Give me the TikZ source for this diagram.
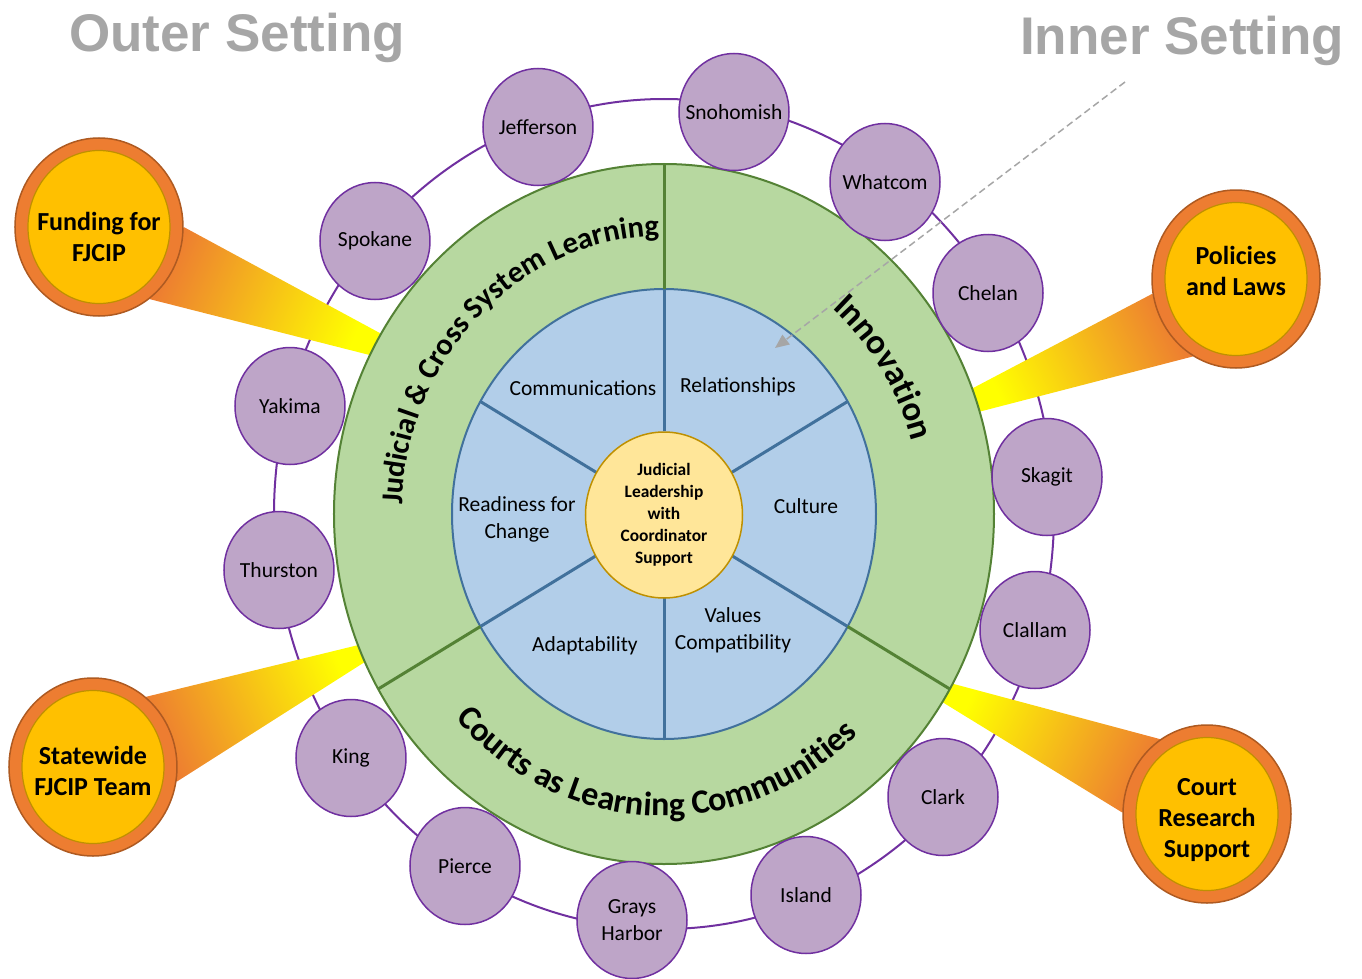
\documentclass[tikz,border=0pt]{standalone}
\usepackage{fontspec}
\setmainfont{Carlito}
\newfontfamily\headfont{Liberation Sans}
\usetikzlibrary{arrows.meta,shapes.geometric,decorations.text,backgrounds}
\definecolor{ringpurple}{RGB}{112,48,160}
\definecolor{countyfill}{RGB}{190,165,200}
\definecolor{outergreen}{RGB}{183,216,160}
\definecolor{greenline}{RGB}{84,130,53}
\definecolor{innerblue}{RGB}{178,206,233}
\definecolor{blueline}{RGB}{65,113,156}
\definecolor{leadfill}{RGB}{255,230,153}
\definecolor{leadline}{RGB}{191,144,0}
\definecolor{pptorange}{RGB}{237,125,49}
\definecolor{orangeline}{RGB}{174,90,33}
\definecolor{pptgold}{RGB}{255,192,0}
\definecolor{headgray}{RGB}{166,166,166}
\newcommand\ringfont{\fontsize{35}{42}\selectfont\bfseries}

\begin{document}
\begin{tikzpicture}[x=1pt,y=1pt,>=Stealth,every node/.style={font=\fontsize{21.5}{27}\selectfont}]
  \tikzset{
    county/.style={ellipse,draw=ringpurple,line width=1.5pt,fill=countyfill,minimum width=110pt,minimum height=117pt,inner sep=0pt},
    support/.style={ellipse,draw=orangeline,line width=1.5pt,fill=pptorange,minimum width=168pt,minimum height=178pt,inner sep=0pt,
      path picture={\filldraw[fill=pptgold,draw=leadline,line width=1.2pt] (path picture bounding box.center) ellipse [x radius=71,y radius=76.5];}},
    supporttext/.style={align=center,font=\fontsize{26}{31}\selectfont\bfseries},
    beam/.style={bottom color=pptorange,top color=yellow},
    spoke/.style={draw=blueline,line width=3pt},
    wedge/.style={draw=greenline,line width=3pt},
    heading/.style={font=\headfont\fontsize{53}{60}\selectfont\bfseries,text=headgray}
  }
  \useasboundingbox (-664,-464) rectangle (698,514);

  % rings
  \filldraw[fill=outergreen,draw=greenline,line width=2pt] (0,0) ellipse [x radius=330,y radius=350];
  \filldraw[fill=innerblue,draw=blueline,line width=2pt] (0,0) ellipse [x radius=212,y radius=225];
  \foreach \a in {90,30,-30,-90,-150,150}
    \draw[spoke] (\a:78 and 83) -- (\a:212 and 225);
  \foreach \a in {90,-30,210}
    \draw[wedge] (\a:212 and 225) -- (\a:330 and 350);
  \node[ellipse,draw=leadline,line width=1.5pt,fill=leadfill,minimum width=157pt,minimum height=166pt,inner sep=0pt,align=center,font=\fontsize{17.4}{22}\selectfont\bfseries] (lead) at (0,-1) {Judicial\\ Leadership\\ with\\ Coordinator\\ Support};

  \node (comm) at (-81,126) {Communications};
  \node (rel) at (74,127) {Relationships};
  \node (cult) at (142,8) {Culture};
  \node[align=center] (vals) at (69,-116) {Values\\ Compatibility};
  \node (adapt) at (-79,-132) {Adaptability};
  \node[align=center] (ready) at (-147,-5) {Readiness for\\ Change};

  \path[decorate,decoration={text along path,text align=center,text={|\fontsize{30.5}{37}\selectfont\bfseries|Judicial {\&} Cross System Learning}}]
    (199:262 and 278) arc [start angle=199,end angle=69,x radius=262,y radius=278];
  \path[decorate,decoration={text along path,text align=center,text={|\ringfont|Innovation}}]
    (83:257 and 272) arc [start angle=83,end angle=-17,x radius=257,y radius=272];
  \path[decorate,decoration={text along path,text align=center,text={|\fontsize{34}{40}\selectfont\bfseries|Courts as Learning Communities}}]
    (188:284 and 302) arc [start angle=188,end angle=348,x radius=284,y radius=302];

  % counties
  \node[county,label=center:Jefferson] (jeff) at (-126,387) {};
  \node[county,label=center:Snohomish] (snoh) at (70,402) {};
  \node[county,label=center:Whatcom] (what) at (221,332) {};
  \node[county,label=center:Chelan] (chel) at (324,221) {};
  \node[county,label=center:Skagit] (skag) at (383,37) {};
  \node[county,label=center:Clallam] (clal) at (371,-116) {};
  \node[county,label=center:Clark] (clark) at (279,-283) {};
  \node[county,label=center:Island] (isl) at (142,-381) {};
  \node[county,label={[align=center]center:Grays\\ Harbor}] (grays) at (-32,-406) {};
  \node[county,label=center:Pierce] (pier) at (-199,-352) {};
  \node[county,label=center:King] (king) at (-313,-244) {};
  \node[county,label=center:Thurston] (thur) at (-385,-56) {};
  \node[county,label=center:Yakima] (yak) at (-374,108) {};
  \node[county,label=center:Spokane] (spok) at (-289,273) {};

  % outer supports
  \node[support,label={[supporttext,yshift=-10]center:Funding for\\ FJCIP}] (fund) at (-565,287) {};
  \node[support,label={[supporttext,yshift=8]center:Policies\\ and Laws}] (pol) at (572,235) {};
  \node[support,label={[supporttext,yshift=-4]center:Statewide\\ FJCIP Team}] (team) at (-571,-253) {};
  \node[support,label={[supporttext,yshift=-6]center:Court\\ Research\\ Support}] (court) at (543,-300) {};

  \begin{pgfonlayer}{background}
    \draw[ringpurple,line width=2pt] (0,0) ellipse [x radius=390,y radius=415];
    \shade[beam,shading angle=-113] (fund.0) -- (149:330 and 350) -- (153:330 and 350) -- (fund.-55) -- cycle;
    \shade[beam,shading angle=115] (pol.190) -- (21:330 and 350) -- (17:330 and 350) -- (pol.241) -- cycle;
    \shade[beam,shading angle=-67] (team.53) -- (202:330 and 350) -- (205:330 and 350) -- (team.-10) -- cycle;
    \shade[beam,shading angle=65] (court.122) -- (-29:330 and 350) -- (-32.5:330 and 350) -- (court.179) -- cycle;
  \end{pgfonlayer}

  \node[heading] (outer) at (-427,476) {Outer Setting};
  \node[heading] (inner) at (518,473) {Inner Setting};
  \coordinate (pointer) at (461,432);
  \coordinate (pointee) at (111,166);
  \draw[headgray,line width=1.5pt,dash pattern=on 7pt off 4pt,-{Triangle[length=14pt,width=12pt]}] (pointer) -- (pointee);
\end{tikzpicture}
\end{document}
